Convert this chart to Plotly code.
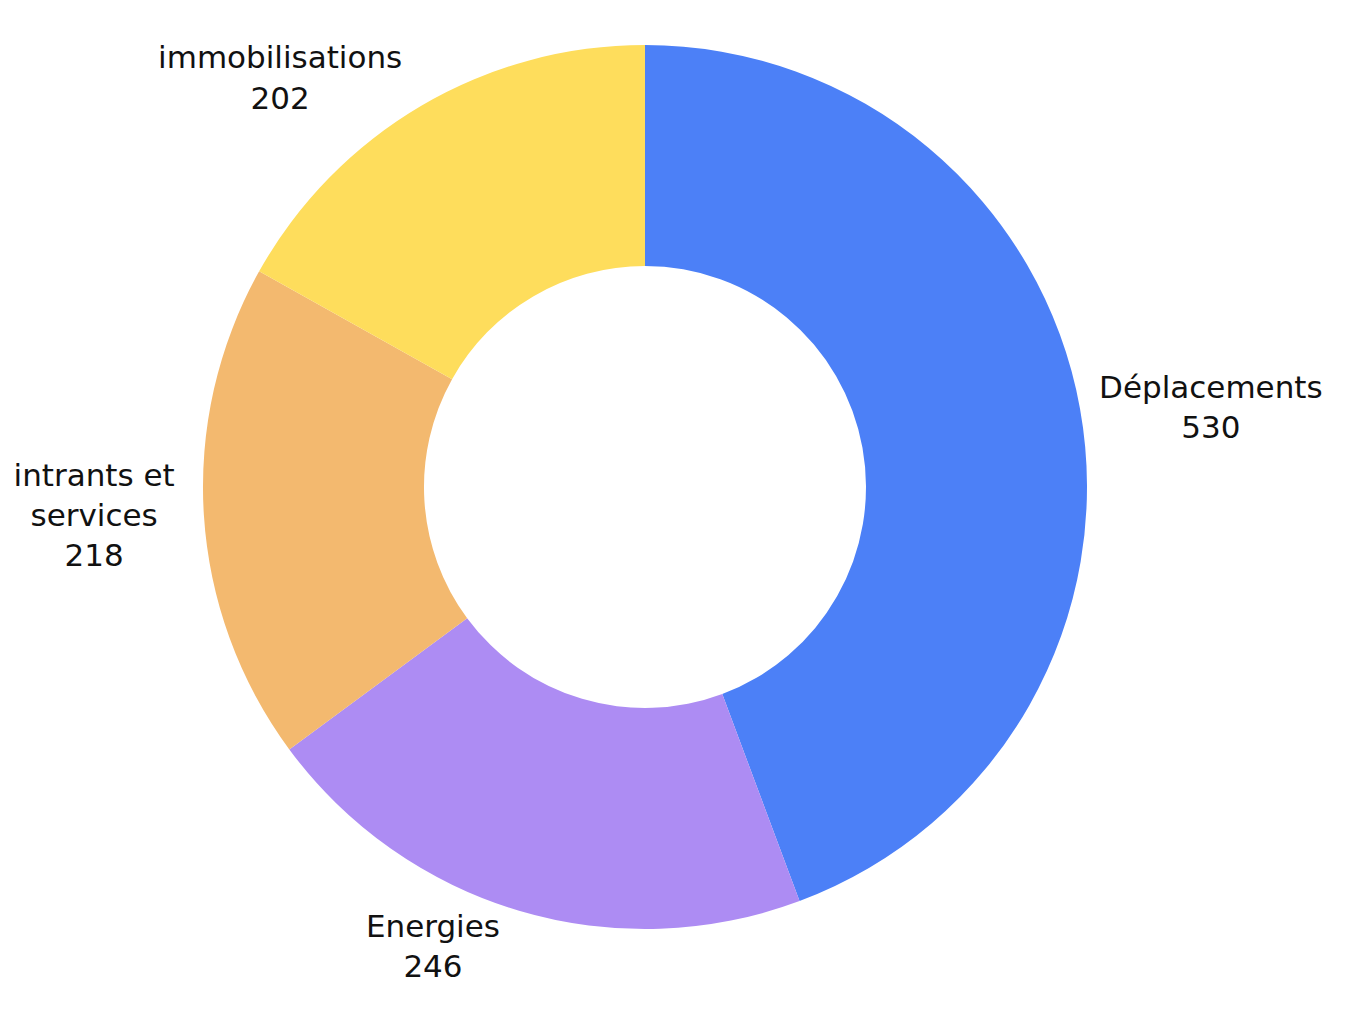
import plotly.graph_objects as go

categories = ["Déplacements", "Energies", "intrants et<br>services", "immobilisations"]
values = [530, 246, 218, 202]
colors = ["#4C80F7", "#AD8CF3", "#F3B96F", "#FEDD5C"]

fig = go.Figure(go.Pie(
    labels=categories,
    values=values,
    hole=0.5,
    sort=False,
    direction="clockwise",
    rotation=0,
    marker=dict(colors=colors, line=dict(width=0)),
    textinfo="label+value",
    textposition="outside",
    textfont=dict(family="DejaVu Sans, sans-serif", size=31, color="#111111"),
    showlegend=False,
    hoverinfo="label+value",
    automargin=False,
    domain=dict(x=[0.1208, 0.8208], y=[0.0935, 0.9636]),
))

fig.update_layout(
    width=1353, height=1016,
    margin=dict(l=0, r=0, t=0, b=0),
    paper_bgcolor="white",
    plot_bgcolor="white",
)

fig.write_html("out.html")
